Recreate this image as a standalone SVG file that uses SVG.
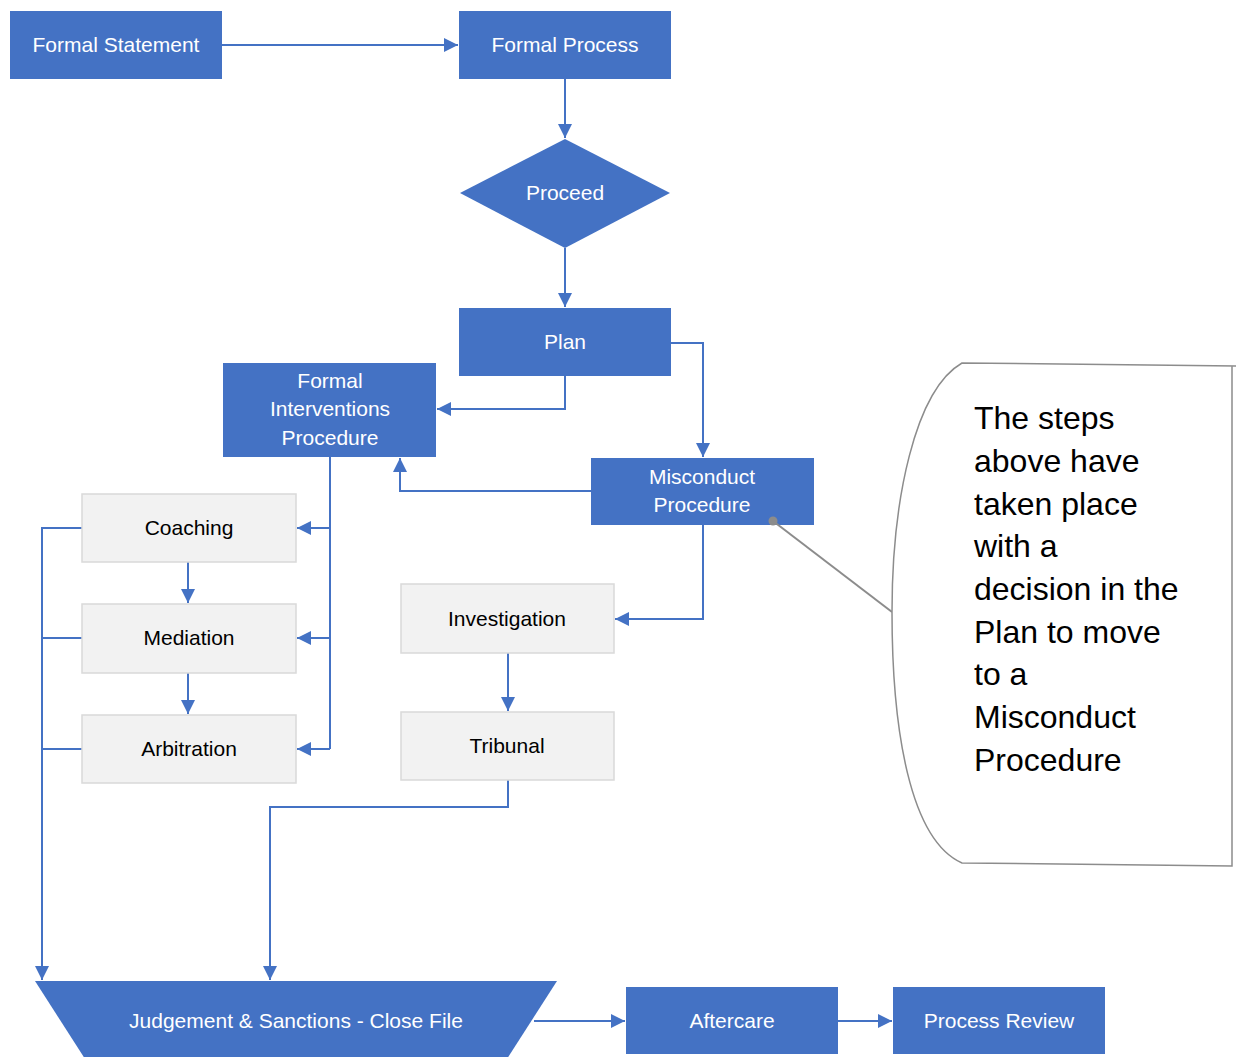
<svg xmlns="http://www.w3.org/2000/svg" width="1236" height="1057" viewBox="0 0 1236 1057">
  <style>
    .blue { fill: #4472c4; }
    .grey { fill: #f2f2f2; stroke: #d9d9d9; stroke-width: 1.5; }
    .wt { fill: #ffffff; font-family: "Liberation Sans", Arial, sans-serif; font-size: 21px; text-anchor: middle; }
    .bt { fill: #000000; font-family: "Liberation Sans", Arial, sans-serif; font-size: 21px; text-anchor: middle; }
    .conn { fill: none; stroke: #4472c4; stroke-width: 2; }
    .note { fill: #000000; font-family: "Liberation Sans", Arial, sans-serif; font-size: 32px; }
  </style>
  <defs>
    <marker id="arrow" viewBox="0 0 10 10" refX="10" refY="5" markerWidth="7" markerHeight="7" markerUnits="strokeWidth" orient="auto">
      <path d="M0,0 L10,5 L0,10 z" fill="#4472c4"/>
    </marker>
  </defs>

  <rect width="1236" height="1057" fill="#ffffff"/>

  <!-- connectors -->
  <g id="connectors">
    <path class="conn" d="M222,45 H458" marker-end="url(#arrow)"/>
    <path class="conn" d="M565,79 V138" marker-end="url(#arrow)"/>
    <path class="conn" d="M565,248 V307" marker-end="url(#arrow)"/>
    <path class="conn" d="M565,376 V409 H437" marker-end="url(#arrow)"/>
    <path class="conn" d="M671,343 H703 V457" marker-end="url(#arrow)"/>
    <path class="conn" d="M591,491 H400 V458" marker-end="url(#arrow)"/>
    <path class="conn" d="M330,457 V749"/>
    <path class="conn" d="M330,528 H297" marker-end="url(#arrow)"/>
    <path class="conn" d="M330,638 H297" marker-end="url(#arrow)"/>
    <path class="conn" d="M330,749 H297" marker-end="url(#arrow)"/>
    <path class="conn" d="M188,562 V603" marker-end="url(#arrow)"/>
    <path class="conn" d="M188,673 V714" marker-end="url(#arrow)"/>
    <path class="conn" d="M82,528 H42 V980" marker-end="url(#arrow)"/>
    <path class="conn" d="M82,638 H42"/>
    <path class="conn" d="M82,749 H42"/>
    <path class="conn" d="M703,525 V619 H615" marker-end="url(#arrow)"/>
    <path class="conn" d="M508,653 V711" marker-end="url(#arrow)"/>
    <path class="conn" d="M508,780 V807 H270 V980" marker-end="url(#arrow)"/>
    <path class="conn" d="M534,1021 H625" marker-end="url(#arrow)"/>
    <path class="conn" d="M838,1021 H892" marker-end="url(#arrow)"/>
  </g>

  <g id="formal-statement">
    <rect class="blue" x="10" y="11" width="212" height="68"/>
    <text class="wt" x="116" y="52">Formal Statement</text>
  </g>
  <g id="formal-process">
    <rect class="blue" x="459" y="11" width="212" height="68"/>
    <text class="wt" x="565" y="52">Formal Process</text>
  </g>
  <g id="proceed">
    <polygon class="blue" points="565,139 670,193 565,248 460,193"/>
    <text class="wt" x="565" y="200">Proceed</text>
  </g>
  <g id="plan">
    <rect class="blue" x="459" y="308" width="212" height="68"/>
    <text class="wt" x="565" y="349">Plan</text>
  </g>
  <g id="formal-interventions">
    <rect class="blue" x="223" y="363" width="213" height="94"/>
    <text class="wt" x="330" y="388">Formal</text>
    <text class="wt" x="330" y="416">Interventions</text>
    <text class="wt" x="330" y="445">Procedure</text>
  </g>
  <g id="misconduct">
    <rect class="blue" x="591" y="458" width="223" height="67"/>
    <text class="wt" x="702" y="484">Misconduct</text>
    <text class="wt" x="702" y="512">Procedure</text>
  </g>
  <g id="coaching">
    <rect class="grey" x="82" y="494" width="214" height="68"/>
    <text class="bt" x="189" y="535">Coaching</text>
  </g>
  <g id="mediation">
    <rect class="grey" x="82" y="604" width="214" height="69"/>
    <text class="bt" x="189" y="645">Mediation</text>
  </g>
  <g id="arbitration">
    <rect class="grey" x="82" y="715" width="214" height="68"/>
    <text class="bt" x="189" y="756">Arbitration</text>
  </g>
  <g id="investigation">
    <rect class="grey" x="401" y="584" width="213" height="69"/>
    <text class="bt" x="507" y="626">Investigation</text>
  </g>
  <g id="tribunal">
    <rect class="grey" x="401" y="712" width="213" height="68"/>
    <text class="bt" x="507" y="753">Tribunal</text>
  </g>
  <g id="judgement">
    <polygon class="blue" points="35,981 557,981 505,1062 87,1062"/>
    <text class="wt" x="296" y="1028">Judgement &amp; Sanctions - Close File</text>
  </g>
  <g id="aftercare">
    <rect class="blue" x="626" y="987" width="212" height="67"/>
    <text class="wt" x="732" y="1028">Aftercare</text>
  </g>
  <g id="process-review">
    <rect class="blue" x="893" y="987" width="212" height="67"/>
    <text class="wt" x="999" y="1028">Process Review</text>
  </g>

  <g id="callout">
    <line x1="773" y1="521" x2="892" y2="612" stroke="#8c8c8c" stroke-width="2"/>
    <circle cx="773" cy="521" r="4.5" fill="#8c8c8c"/>
    <path d="M1236,366 L962,363 C915,390 892,500 892,612 C892,730 910,840 962,863 L1232,866 L1232,366" fill="#ffffff" stroke="#8c8c8c" stroke-width="1.5"/>
    <text class="note" x="974" y="429">The steps</text>
    <text class="note" x="974" y="472">above have</text>
    <text class="note" x="974" y="515">taken place</text>
    <text class="note" x="974" y="557">with a</text>
    <text class="note" x="974" y="600">decision in the</text>
    <text class="note" x="974" y="643">Plan to move</text>
    <text class="note" x="974" y="685">to a</text>
    <text class="note" x="974" y="728">Misconduct</text>
    <text class="note" x="974" y="771">Procedure</text>
  </g>
</svg>
